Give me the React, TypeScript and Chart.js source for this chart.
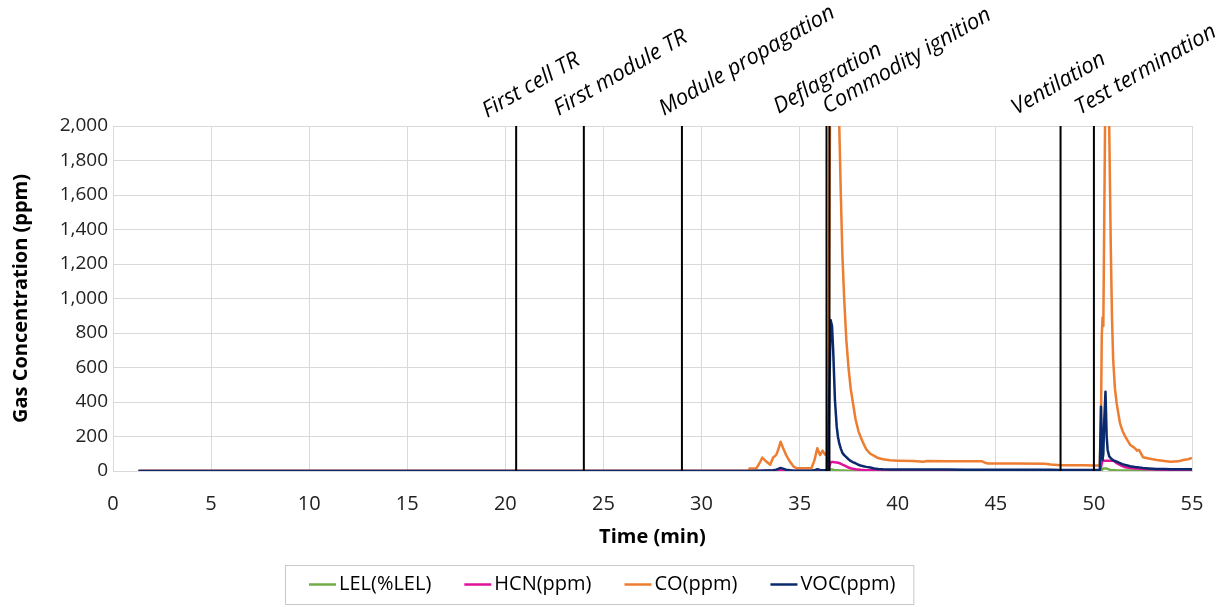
import React, { useEffect, useRef } from "react";
import { Chart, registerables } from "chart.js";

Chart.register(...registerables);

// ---------- data ----------
const TIME = [
  1.3, 10, 20, 30, 32.4, 32.45, 32.8, 33.0, 33.1, 33.3, 33.5, 33.65, 33.8, 33.9, 34.03, 34.15, 34.3, 34.5,
  34.7, 34.85, 35.6, 35.75, 35.9, 36.04, 36.17, 36.3, 36.45, 36.52, 36.58, 36.65, 36.71, 36.8, 36.89, 36.95,
  37.02, 37.1, 37.18, 37.27, 37.38, 37.49, 37.6, 37.71, 37.85, 38.0, 38.1, 38.25, 38.4, 38.6, 38.8, 39.0,
  39.25, 39.6, 40.0, 40.8, 41.3, 41.5, 42.5, 43.5, 44.3, 44.45, 44.6, 46.0, 47.5, 47.8, 48.3, 49.0, 49.5,
  50.0, 50.3, 50.36, 50.4, 50.44, 50.48, 50.53, 50.59, 50.65, 50.7, 50.78, 50.86, 50.92, 50.98, 51.07, 51.16,
  51.33, 51.45, 51.6, 51.85, 52.0, 52.1, 52.2, 52.3, 52.5, 52.8, 53.2, 53.6, 53.9, 54.3, 54.55, 54.8, 55.0,
];

const CO = [
  0, 0, 0, 0, 0, 15, 16, 55, 78, 55, 36, 78, 92, 120, 170, 135, 95, 55,
  25, 16, 16, 60, 132, 92, 118, 95, 110, 1500, 2700, 3000, 3000, 2900, 2600, 2300,
  2000, 1600, 1250, 1000, 760, 600, 480, 400, 300, 230, 200, 160, 125, 100, 88, 75,
  68, 62, 60, 58, 54, 58, 57, 57, 56, 48, 44, 43, 42, 38, 34, 33, 33,
  32, 32, 300, 780, 890, 840, 1500, 2300, 2500, 2300, 2000, 1300, 900, 650, 480, 392,
  276, 235, 199, 151, 140, 131, 118, 122, 80, 72, 64, 58, 54, 56, 64, 68, 76,
];

const VOC = [
  0, 0, 0, 0, 0, 0, 1, 2, 2, 3, 3, 5, 8, 12, 18, 14, 8, 4,
  2, 1, 1, 4, 10, 6, 5, 4, 6, 500, 875, 840, 700, 410, 257, 200,
  160, 130, 105, 92, 80, 68, 58, 52, 45, 36, 32, 28, 24, 20, 15, 12,
  10, 9, 8, 8, 8, 8, 8, 7, 7, 7, 7, 7, 7, 7, 6, 6, 6,
  6, 6, 373, 200, 64, 100, 300, 460, 200, 122, 85, 75, 68, 62, 58, 54,
  46, 40, 35, 28, 25, 23, 22, 21, 18, 15, 12, 11, 10, 10, 10, 10, 10,
];

const HCN = [
  0, 0, 0, 0, 0, 0, 0, 0, 1, 1, 1, 2, 2, 3, 4, 3, 2, 1,
  0, 0, 0, 1, 2, 2, 2, 2, 3, 30, 50, 52, 52, 50, 49, 48,
  46, 42, 37, 33, 27, 20, 16, 13, 10, 8, 7, 6, 5, 5, 4, 4,
  4, 3, 3, 3, 3, 2, 2, 2, 2, 2, 2, 2, 2, 2, 2, 2, 2,
  2, 2, 20, 45, 58, 60, 60, 60, 60, 60, 60, 60, 60, 60, 55, 45,
  35, 28, 22, 18, 16, 15, 14, 13, 12, 10, 8, 7, 6, 6, 6, 5, 5,
];

const LEL = [
  0, 0, 0, 0, 0, 0, 0, 0, 0, 0, 0, 0, 0, 0, 0, 0, 0, 0,
  0, 0, 0, 0, 0, 0, 0, 0, 0, 5, 10, 9, 7, 5, 4, 4,
  3, 3, 3, 3, 2, 2, 2, 2, 2, 2, 2, 2, 2, 2, 2, 2,
  2, 2, 2, 2, 2, 2, 2, 2, 2, 2, 2, 2, 2, 2, 2, 2, 2,
  2, 2, 3, 6, 10, 14, 15, 15, 14, 12, 8, 6, 5, 4, 4, 3,
  3, 3, 3, 3, 3, 3, 3, 3, 3, 2, 2, 2, 2, 2, 2, 2, 2,
];

const SERIES_NAMES = ["LEL(%LEL)", "HCN(ppm)", "CO(ppm)", "VOC(ppm)"];
const SERIES_COLORS = ["#70AD47", "#E0129C", "#ED7D31", "#0B2A6E"];

const EVENT_TIMES = [20.55, 24.0, 29.0, 36.37, 36.52, 48.3, 50.0];
const EVENT_LABELS = [
  "First cell TR",
  "First module TR",
  "Module propagation",
  "Deflagration",
  "Commodity ignition",
  "Ventilation",
  "Test termination",
];

const X_MIN = 0;
const X_MAX = 55;
const X_STEP = 5;
const Y_MIN = 0;
const Y_MAX = 2000;
const Y_STEP = 200;

// ---------- styling (layout only) ----------
const W = 1227;
const H = 607;
const FONT = "'Open Sans', 'Noto Sans', sans-serif";
const LABEL_DX = [-29, -25, -18, -48, -2, -44, -14];
const LABEL_BASE_Y = [118, 116, 116, 114, 114, 115, 115];
const LABEL_ANGLE = -30;

const overlayPlugin = {
  id: "overlay",
  afterDatasetsDraw(chart: any) {
    const { ctx, chartArea, scales } = chart;
    const x = scales.x;
    ctx.save();
    ctx.strokeStyle = "#000";
    ctx.lineWidth = 2;
    EVENT_TIMES.forEach((t) => {
      const px = x.getPixelForValue(t);
      ctx.beginPath();
      ctx.moveTo(px, chartArea.top);
      ctx.lineTo(px, chartArea.bottom);
      ctx.stroke();
    });
    ctx.restore();
  },
  afterDraw(chart: any) {
    const { ctx, scales } = chart;
    const x = scales.x;
    ctx.save();
    // event labels
    ctx.fillStyle = "#000";
    ctx.font = `italic 22px ${FONT}`;
    ctx.textAlign = "left";
    ctx.textBaseline = "alphabetic";
    EVENT_TIMES.forEach((t, i) => {
      const px = x.getPixelForValue(t);
      ctx.save();
      ctx.translate(px + LABEL_DX[i], LABEL_BASE_Y[i]);
      ctx.rotate((LABEL_ANGLE * Math.PI) / 180);
      ctx.fillText(EVENT_LABELS[i], 0, 0);
      ctx.restore();
    });

    // legend
    ctx.font = `20px ${FONT}`;
    ctx.textBaseline = "middle";
    const boxLeft = 285;
    const boxTop = 565;
    const boxH = 39;
    const cy = boxTop + boxH / 2;
    let cx = boxLeft + 24;
    const lineLen = 27;
    SERIES_NAMES.forEach((name, i) => {
      ctx.strokeStyle = SERIES_COLORS[i];
      ctx.lineWidth = 2.5;
      ctx.beginPath();
      ctx.moveTo(cx, cy);
      ctx.lineTo(cx + lineLen, cy);
      ctx.stroke();
      cx += lineLen + 3;
      ctx.fillStyle = "#000";
      ctx.fillText(name, cx, cy);
      cx += ctx.measureText(name).width;
      if (i < SERIES_NAMES.length - 1) cx += 33;
    });
    const boxRight = cx + 18;
    ctx.strokeStyle = "#c9c9c9";
    ctx.lineWidth = 1;
    ctx.strokeRect(boxLeft + 0.5, boxTop + 0.5, boxRight - boxLeft, boxH);
    ctx.restore();
  },
};

export default function App() {
  const canvasRef = useRef<HTMLCanvasElement | null>(null);

  useEffect(() => {
    if (!canvasRef.current) return;
    const seriesValues = [LEL, HCN, CO, VOC];
    const orders = [3, 2, 1, 0];
    const chart = new Chart(canvasRef.current, {
      type: "line",
      data: {
        datasets: SERIES_NAMES.map((name, i) => ({
          label: name,
          data: TIME.map((t, j) => ({ x: t, y: seriesValues[i][j] })),
          borderColor: SERIES_COLORS[i],
          backgroundColor: SERIES_COLORS[i],
          borderWidth: 2.5,
          pointRadius: 0,
          tension: 0,
          fill: false,
          order: orders[i],
          borderJoinStyle: "round" as const,
        })),
      },
      options: {
        animation: false,
        responsive: false,
        devicePixelRatio: 1,
        layout: { padding: { top: 126, right: 35, bottom: 56, left: 0 } },
        plugins: {
          legend: { display: false },
          tooltip: { enabled: false },
        },
        scales: {
          x: {
            type: "linear",
            min: X_MIN,
            max: X_MAX,
            afterFit: (s: any) => {
              s.height = 80;
            },
            ticks: {
              stepSize: X_STEP,
              padding: 21,
              color: "#222",
              font: { family: FONT, size: 20 },
              maxRotation: 0,
            },
            grid: { color: "#d9d9d9", lineWidth: 1, drawTicks: false },
            border: { color: "#d9d9d9" },
            title: {
              display: true,
              text: "Time (min)",
              color: "#000",
              font: { family: FONT, size: 20, weight: "bold" },
              padding: { top: 0, bottom: 2 },
            },
          },
          y: {
            type: "linear",
            min: Y_MIN,
            max: Y_MAX,
            afterFit: (s: any) => {
              s.width = 113;
            },
            ticks: {
              stepSize: Y_STEP,
              padding: 5,
              color: "#222",
              font: { family: FONT, size: 19 },
              callback: (v: any) => Number(v).toLocaleString("en-US"),
            },
            grid: { color: "#d9d9d9", lineWidth: 1, drawTicks: false },
            border: { color: "#d9d9d9" },
            title: {
              display: true,
              text: "Gas Concentration (ppm)",
              color: "#000",
              font: { family: FONT, size: 20, weight: "bold" },
              padding: { top: 9, bottom: 0 },
            },
          },
        },
      },
      plugins: [overlayPlugin],
    });
    return () => chart.destroy();
  }, []);

  return (
    <div style={{ position: "absolute", left: 0, top: 0, width: W, height: H, background: "#fff" }}>
      <canvas ref={canvasRef} width={W} height={H} style={{ display: "block" }} />
    </div>
  );
}
